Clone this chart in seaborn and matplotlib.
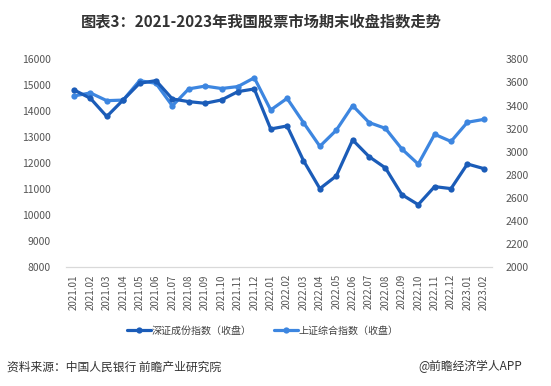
import matplotlib
matplotlib.use("Agg")
import matplotlib.pyplot as plt
import seaborn as sns
import pandas as pd

months = ["2021.01","2021.02","2021.03","2021.04","2021.05","2021.06","2021.07","2021.08",
          "2021.09","2021.10","2021.11","2021.12","2022.01","2022.02","2022.03","2022.04",
          "2022.05","2022.06","2022.07","2022.08","2022.09","2022.10","2022.11","2022.12",
          "2023.01","2023.02"]
szse = [14822, 14500, 13800, 14436, 15077, 15180, 14475, 14372, 14308, 14436, 14757, 14859,
        13320, 13436, 12103, 11026, 11513, 12898, 12257, 11821, 10795, 10410, 11103, 11026,
        11974, 11795]
sse = [3483, 3509, 3442, 3447, 3615, 3592, 3397, 3544, 3568, 3547, 3564, 3640,
       3361, 3462, 3252, 3047, 3186, 3399, 3253, 3202, 3024, 2893, 3151, 3089,
       3255, 3280]
left_ticks = [8000, 9000, 10000, 11000, 12000, 13000, 14000, 15000, 16000]
right_ticks = [2000, 2200, 2400, 2600, 2800, 3000, 3200, 3400, 3600, 3800]

sns.set_theme(style="white")
plt.rcParams['font.family'] = ['Noto Sans CJK SC', 'DejaVu Sans']

df = pd.DataFrame({"x": range(len(months)), "sz": szse, "sh": sse})

fig = plt.figure(figsize=(5.51, 3.86), dpi=100)
ax = fig.add_axes([0.1194, 0.3075, 0.7735, 0.5389])
ax2 = ax.twinx()

dark = "#1B5CB8"
light = "#3D86E0"

sns.lineplot(data=df, x="x", y="sz", ax=ax, color=dark, lw=2.3, marker="o",
             markersize=4.5, markeredgewidth=0, label="深证成份指数（收盘）", legend=False)
sns.lineplot(data=df, x="x", y="sh", ax=ax2, color=light, lw=2.3, marker="o",
             markersize=4.5, markeredgewidth=0, label="上证综合指数（收盘）", legend=False)
ax.set_zorder(ax2.get_zorder() + 1)
ax.patch.set_visible(False)

ax.set_xlim(-0.5, len(months) - 0.5)
ax.set_ylim(8000, 16000)
ax2.set_ylim(2000, 3800)
ax.set_yticks(left_ticks)
ax2.set_yticks(right_ticks)
ax.set_xticks(range(len(months)))
ax.set_xticklabels(months, rotation=90, fontsize=7, color="#555555")
ax.set_xlabel("")
ax.set_ylabel("")
ax2.set_ylabel("")
ax.tick_params(axis="y", labelsize=7.5, colors="#555555", length=0, pad=11)
ax2.tick_params(axis="y", labelsize=7.5, colors="#555555", length=0, pad=10)
ax.tick_params(axis="x", length=0, pad=5)
for a in (ax, ax2):
    for s in ["top", "left", "right"]:
        a.spines[s].set_visible(False)
    a.spines["bottom"].set_color("#d9d9d9")
    a.spines["bottom"].set_linewidth(0.8)
    a.grid(False)

h1, l1 = ax.get_legend_handles_labels()
h2, l2 = ax2.get_legend_handles_labels()
fig.legend(h1 + h2, l1 + l2, loc="center", bbox_to_anchor=(0.477, 0.143), ncol=2,
           frameon=False, fontsize=7.2, handlelength=2.4, handletextpad=0.1,
           columnspacing=2.2, labelcolor="#404040")

fig.text(0.474, 0.945, "图表3：2021-2023年我国股票市场期末收盘指数走势", ha="center", va="center",
         fontsize=11, fontweight="bold", color="#333333")
fig.text(0.013, 0.05, "资料来源：中国人民银行 前瞻产业研究院", ha="left", va="center",
         fontsize=8.5, color="#333333")
fig.text(0.948, 0.05, "@前瞻经济学人APP", ha="right", va="center", fontsize=8.5, color="#333333")

fig.savefig("out.png", dpi=100)
